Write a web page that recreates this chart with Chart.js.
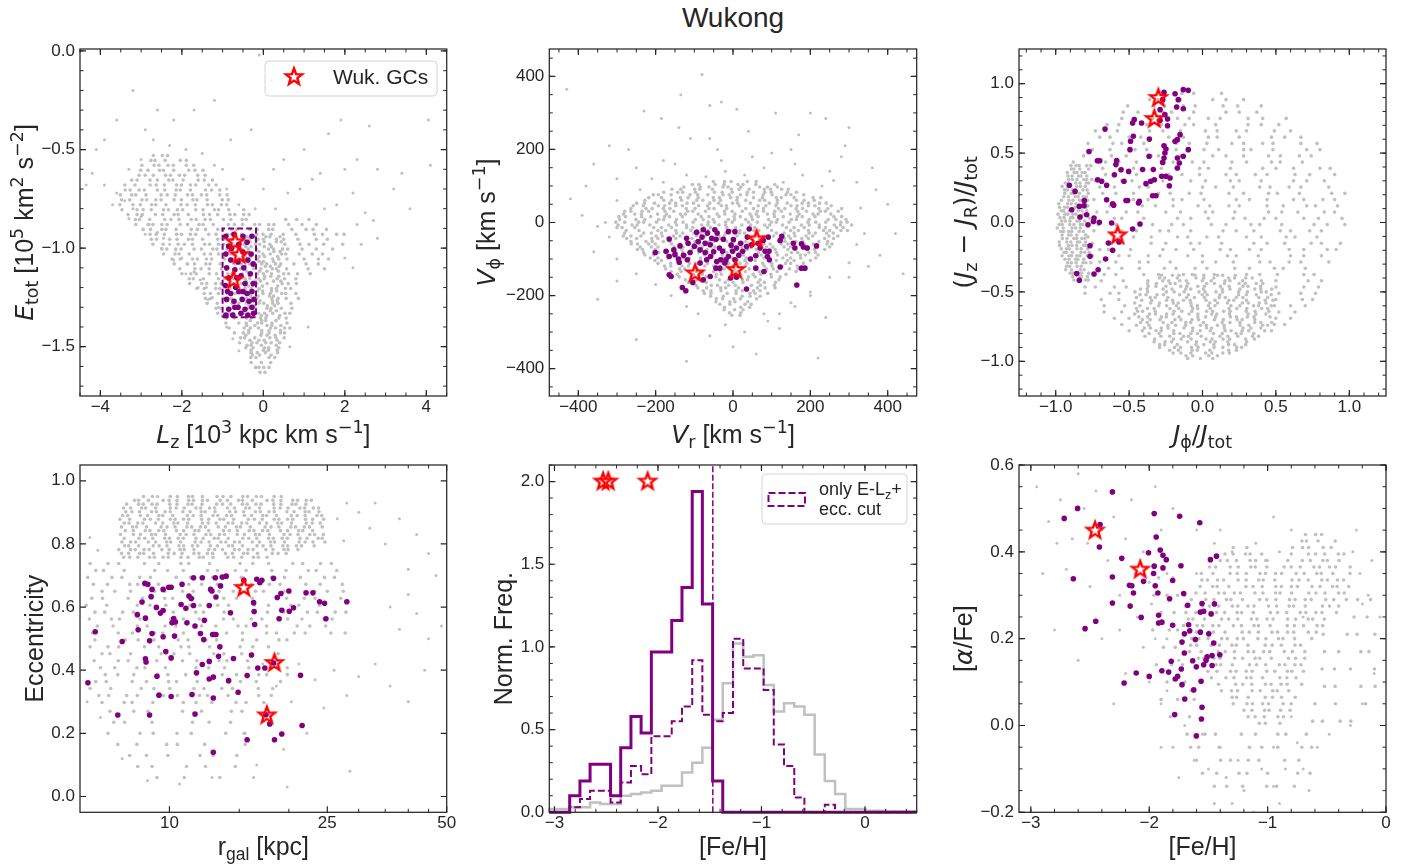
<!DOCTYPE html>
<html>
<head>
<meta charset="utf-8">
<script src="https://cdn.jsdelivr.net/npm/chart.js@4.4.1/dist/chart.umd.min.js"></script>
<style>
  html, body { margin: 0; padding: 0; background: #fff; }
  #fig { position: relative; width: 1416px; height: 867px; overflow: hidden; }
  #fig canvas { position: absolute; left: 0; top: 0; }
  #title { position: absolute; left: 533px; width: 400px; top: 2px; text-align: center;
           font: 28px "Liberation Sans", Arial, sans-serif; color: #262626; }
</style>
</head>
<body>
<div id="fig">
  <div id="title">Wukong</div>
  <canvas id="p1" width="1416" height="867"></canvas>
  <canvas id="p2" width="1416" height="867"></canvas>
  <canvas id="p3" width="1416" height="867"></canvas>
  <canvas id="p4" width="1416" height="867"></canvas>
  <canvas id="p5" width="1416" height="867"></canvas>
  <canvas id="p6" width="1416" height="867"></canvas>
</div>
<script>
// ---- panel 1: E_tot vs L_z ----
// sparse stars as [Lz, E]; the crowded parts as rows [E, [Lz, ...]]
const eLzField = [
  [-4.2,-0.62],[-3.9,-0.68],[-3.6,-0.72],[-3.4,-0.76],[-3.2,-0.8],[-3.0,-0.84],[-2.8,-0.88],[-2.6,-0.92],[-2.45,-0.95],[-2.3,-0.98],
  [-2.15,-1.01],[-2.0,-1.05],[-1.85,-1.08],[-1.7,-1.12],[-1.55,-1.16],[-1.4,-1.2],[-1.25,-1.25],[-1.1,-1.3],[-1.0,-1.34],[-0.9,-1.4],
  [-0.75,-1.46],[-0.6,-1.52],[-3.7,-0.78],[-3.3,-0.85],[-2.9,-0.93],[-2.5,-1.0],[-2.2,-1.06],[-1.9,-1.13],[-1.6,-1.2],[-1.35,-1.26],
  [-2.7,-0.45],[-2.3,-0.48],[-1.9,-0.5],[-1.5,-0.52],[-1.2,-0.58],[-3.3,-0.6],[-3.0,-0.55],
  [1.5,-0.8],[1.8,-0.78],[2.2,-0.72],[2.8,-0.95],[2.4,-0.98],[1.1,-1.4],[0.65,-1.5],[2.5,-0.82],[2.7,-0.86],[2.3,-0.88],[2.2,-1.1],[2.0,-1.05],
  [-3.2,-0.2],[-3.6,-0.35],[-4.1,-0.5],[-2.9,-0.4],[-2.2,-0.35],[-1.7,-0.3],[-1.2,-0.25],[-0.8,-0.45],[-0.3,-0.4],[0.2,-0.15],
  [0.5,-0.55],[1.0,-0.5],[1.6,-0.42],[2.3,-0.55],[2.8,-0.6],[3.2,-0.7],[3.6,-0.8],[4.1,-0.58],[4.05,-0.35],[3.0,-0.1],
  [-0.5,-0.65],[0.0,-0.7],[0.3,-0.8],[-4.35,-0.68],[-3.9,-0.45],[-2.6,-0.3],[1.2,-0.65],[2.0,-0.6],[0.6,-0.72],[-0.1,-0.02],
  [-0.2,-0.8],[-1.0,-0.6],[1.9,-0.35],[2.6,-0.38],[-0.6,-0.78],[0.9,-0.7],[1.4,-0.62],[-0.9,-0.7],[0.25,-0.6],[3.4,-0.62]
]
const eLzDense = [
  [-0.53, [-2.70,-2.48,-2.35]],
  [-0.555, [-2.76,-2.66,-2.41,-2.04,-1.89]],
  [-0.58, [-2.98,-2.68,-2.56,-2.34,-2.21,-1.89,-1.71]],
  [-0.605, [-3.01,-2.83,-2.55,-2.45,-2.2,-1.83,-1.68,-1.48]],
  [-0.63, [-3.05,-2.9,-2.7,-2.4,-2.28,-2.06,-1.93,-1.61,-1.43]],
  [-0.655, [-3.23,-3.1,-2.78,-2.6,-2.32,-2.22,-1.97,-1.6,-1.45,-1.25]],
  [-0.68, [-3.4,-3.15,-2.78,-2.63,-2.43,-2.13,-2.01,-1.79,-1.66,-1.34,-1.16]],
  [-0.705, [-3.39,-3.27,-3.05,-2.92,-2.6,-2.42,-2.14,-2.04,-1.79,-1.42,-1.27,-1.07]],
  [-0.73, [-3.51,-3.23,-3.13,-2.88,-2.51,-2.36,-2.16,-1.86,-1.74,-1.52,-1.39,-1.07,-0.89]],
  [-0.755, [-3.48,-3.28,-2.98,-2.86,-2.64,-2.51,-2.19,-2.01,-1.73,-1.63,-1.38,-1.01,-0.86]],
  [-0.78, [-3.52,-3.2,-3.02,-2.74,-2.64,-2.39,-2.02,-1.87,-1.67,-1.37,-1.25,-1.03,-0.9]],
  [-0.805, [-3.47,-3.1,-2.95,-2.75,-2.45,-2.33,-2.11,-1.98,-1.66,-1.48,-1.2,-1.1,-0.85,-0.48]],
  [-0.83, [-3.32,-3.1,-2.97,-2.65,-2.47,-2.19,-2.09,-1.84,-1.47,-1.32,-1.12,-0.82,-0.7,-0.48,-0.35]],
  [-0.855, [-3.14,-3.04,-2.79,-2.42,-2.27,-2.07,-1.77,-1.65,-1.43,-1.3,-0.98,-0.8,-0.52,-0.42,0.55,0.82,1.12]],
  [-0.88, [-3.13,-2.83,-2.71,-2.49,-2.36,-2.04,-1.86,-1.58,-1.48,-1.23,-0.86,-0.71,-0.51,-0.21,-0.09,0.13,0.26,0.62,0.95,1.3]],
  [-0.905, [-2.95,-2.77,-2.49,-2.39,-2.14,-1.77,-1.62,-1.42,-1.12,-1.0,-0.78,-0.65,-0.33,-0.15,0.13,0.23,0.7,1.05,1.22,1.55]],
  [-0.93, [-2.78,-2.63,-2.43,-2.13,-2.01,-1.79,-1.66,-1.34,-1.16,-0.88,-0.78,-0.53,-0.16,-0.01,0.19,0.49,0.8,1.25,1.45,1.8,1.98]],
  [-0.9425, [-0.4,-0.22,0.06,0.16,0.41]],
  [-0.955, [-2.75,-2.62,-2.3,-2.12,-1.84,-1.74,-1.49,-1.12,-0.97,-0.77,-0.47,-0.35,-0.13,0.0,0.32,0.5,0.85,1.3,1.57]],
  [-0.9675, [-0.33,-0.18,0.02,0.32,0.44]],
  [-0.98, [-2.71,-2.46,-2.09,-1.94,-1.74,-1.44,-1.32,-1.1,-0.97,-0.65,-0.47,-0.19,-0.09,0.16,0.53,0.9,1.12,1.48,1.95]],
  [-0.9925, [-0.43,-0.3,0.02,0.2]],
  [-1.005, [-2.49,-2.37,-2.15,-2.02,-1.7,-1.52,-1.24,-1.14,-0.89,-0.52,-0.37,-0.17,0.13,0.25,0.47,0.6,0.95,1.3,1.7]],
  [-1.0175, [-0.36,-0.11,0.26,0.41]],
  [-1.03, [-2.45,-2.17,-2.07,-1.82,-1.45,-1.3,-1.1,-0.8,-0.68,-0.46,-0.33,-0.01,0.17,0.45,0.55,0.88,1.2,1.45]],
  [-1.0425, [-0.44,-0.32,-0.1,0.03,0.35]],
  [-1.055, [-2.24,-2.04,-1.74,-1.62,-1.4,-1.27,-0.95,-0.77,-0.49,-0.39,-0.14,0.23,0.38,0.58,1.0,1.35,1.6]],
  [-1.0675, [-0.38,-0.1,0.0,0.25]],
  [-1.08, [-2.19,-1.87,-1.69,-1.41,-1.31,-1.06,-0.69,-0.54,-0.34,-0.04,0.08,0.3,0.43,0.75,1.05,1.35]],
  [-1.0925, [-0.45,-0.25,0.05,0.17,0.39]],
  [-1.105, [-2.05,-1.68,-1.53,-1.33,-1.03,-0.91,-0.69,-0.56,-0.24,-0.06,0.22,0.32,0.57,1.1,1.5]],
  [-1.1175, [-0.41,-0.09,0.09,0.37]],
  [-1.13, [-2.0,-1.78,-1.65,-1.33,-1.15,-0.87,-0.77,-0.52,-0.15,0.0,0.2,0.5,0.62,0.84,1.15]],
  [-1.1425, [-0.34,0.03,0.18,0.38]],
  [-1.155, [-1.82,-1.72,-1.47,-1.1,-0.95,-0.75,-0.45,-0.33,-0.11,0.02,0.34,0.52,0.8]],
  [-1.1675, [-0.42,-0.2,-0.07,0.25,0.43]],
  [-1.18, [-1.81,-1.51,-1.39,-1.17,-1.04,-0.72,-0.54,-0.26,-0.16,0.09,0.46,0.61,0.81]],
  [-1.1925, [-0.37,-0.27,-0.02,0.35]],
  [-1.205, [-1.63,-1.45,-1.17,-1.07,-0.82,-0.45,-0.3,-0.1,0.2,0.32,0.54,0.67]],
  [-1.2175, [-0.44,-0.14,-0.02,0.2,0.33]],
  [-1.23, [-1.45,-1.3,-1.1,-0.8,-0.68,-0.46,-0.33,-0.01,0.17,0.45,0.55,0.8]],
  [-1.2425, [-0.31,-0.13,0.15,0.25]],
  [-1.255, [-1.42,-1.29,-0.97,-0.79,-0.51,-0.41,-0.16,0.21,0.36,0.56,0.86]],
  [-1.2675, [-0.43,-0.28,-0.08,0.22,0.34]],
  [-1.28, [-1.38,-1.13,-0.76,-0.61,-0.41,-0.11,0.01,0.23,0.36,0.68]],
  [-1.2925, [-0.35,-0.22,0.1,0.28]],
  [-1.305, [-1.16,-1.04,-0.82,-0.69,-0.37,-0.19,0.09,0.19,0.44,0.7]],
  [-1.3175, [-0.45,-0.2,0.17,0.32]],
  [-1.33, [-1.12,-0.84,-0.74,-0.49,-0.12,0.03,0.23,0.53,0.65]],
  [-1.3425, [-0.39,-0.27,-0.05,0.08,0.4]],
  [-1.355, [-0.91,-0.71,-0.41,-0.29,-0.07,0.06,0.38,0.56]],
  [-1.3675, [-0.32,-0.04,0.06,0.31]],
  [-1.38, [-0.92,-0.6,-0.42,-0.14,-0.04,0.21,0.58]],
  [-1.3925, [-0.41,-0.21,0.09,0.21,0.43]],
  [-1.405, [-0.84,-0.47,-0.32,-0.12,0.18,0.3,0.52,0.65]],
  [-1.4175, [-0.36,-0.04,0.14,0.42]],
  [-1.43, [-0.71,-0.49,-0.36,-0.04,0.14,0.42,0.52]],
  [-1.4425, [-0.43,-0.06,0.09,0.29]],
  [-1.455, [-0.56,-0.46,-0.21,0.16,0.31,0.51]],
  [-1.4675, [-0.33,-0.11,0.02,0.34]],
  [-1.48, [-0.58,-0.28,-0.16,0.06,0.19,0.4]],
  [-1.4925, [-0.4,-0.3,-0.05,0.32]],
  [-1.505, [-0.43,-0.25,0.03,0.13,0.38]],
  [-1.5175, [-0.3,0.0,0.12,0.34]],
  [-1.53, [-0.3,-0.15,0.05,0.35]],
  [-1.5425, [-0.27,-0.09,0.19]],
  [-1.555, [-0.31,-0.18,0.14,0.28]],
  [-1.58, [-0.3,-0.05,0.18]],
  [-1.605, [-0.19,-0.11,0.01,0.14]],
  [-1.63, [-0.08,0.04]]
]
const eLzMembers = [
  [-0.92,-0.94],[-0.72,-0.93],[-0.5,-0.94],[-0.28,-0.94],[-0.85,-0.99],[-0.6,-0.98],[-0.4,-0.97],[-0.92,-1.03],[-0.5,-1.02],[-0.3,-1.03],
  [-0.8,-1.06],[-0.62,-1.07],[-0.38,-1.06],[-0.25,-1.08],[-0.9,-1.1],[-0.7,-1.11],[-0.48,-1.1],[-0.85,-1.15],[-0.55,-1.14],[-0.32,-1.13],
  [-0.93,-1.19],[-0.68,-1.2],[-0.45,-1.18],[-0.25,-1.18],[-0.8,-1.23],[-0.6,-1.22],[-0.4,-1.23],[-0.28,-1.22],[-0.9,-1.26],[-0.72,-1.27],
  [-0.52,-1.26],[-0.35,-1.27],[-0.23,-1.26],[-0.85,-1.31],[-0.62,-1.3],[-0.45,-1.31],[-0.28,-1.3],[-0.92,-1.34],[-0.75,-1.34],[-0.55,-1.33],
  [-0.38,-1.34],[-0.24,-1.33],[-0.78,-1.0],[-0.65,-1.15],[-0.88,-1.22],[-0.5,-1.22],[-0.7,-1.3]
]
const boxLz = [-1.0, -0.18]
const boxE = [-1.35, -0.9]
const gcLz = [-0.69, -0.59, -0.73]
const gcE = [-0.97, -1.035, -1.162]

// ---- panel 2: V_phi vs V_r ----
const velField = [
  [-180,110],[-120,130],[-70,125],[-20,140],[30,130],[80,150],[130,110],[180,130],[230,100],[-240,90],[-30,170],[100,190],[160,160],
  [-150,160],[250,140],[-210,120],[260,115],[-300,60],[330,40],[-330,0],[340,-30],[-320,-40],[320,-60],[-300,-100],[300,-110],
  [-250,-140],[250,-150],[-200,-170],[200,-190],[-160,-200],[150,-220],[-120,-230],[90,-270],[-20,-280],[30,-300],[-90,-250],[120,-250],
  [-80,405],[-135,350],[-230,305],[-185,285],[-30,330],[-60,320],[10,310],[110,300],[200,300],[240,285],[300,260],[-320,210],
  [-360,160],[-420,65],[-390,20],[-350,-10],[-360,-80],[-300,-160],[-350,-210],[-250,-320],[-120,-380],[-60,-310],[80,-250],
  [120,-290],[160,-230],[200,-200],[240,-260],[300,-150],[350,-120],[380,-90],[420,-30],[440,-140],[400,50],[360,150],[320,110],
  [280,180],[150,200],[50,180],[-40,200],[-110,230],[-180,170],[-250,150],[-300,120],[0,-340],[60,-360],[220,-371],[-430,365],
  [-60,230],[40,250],[-140,260],[170,240],[-270,200],[290,210],[-380,100],[370,90]
]
const velDense = [
  [112, [-51,-22,-5,37,60]],
  [104, [-105,-88,-46,-23,13,26,59,108]],
  [97, [-127,-85,-62,-26,-13,20,69,89,115]],
  [91, [-158,-135,-99,-86,-53,-4,16,42,81,97,126,143]],
  [83, [-179,-143,-130,-97,-48,-28,-2,37,53,82,99,141,164]],
  [76, [-206,-193,-160,-111,-91,-65,-26,-10,19,36,78,101,137,150,183]],
  [68, [-218,-185,-136,-116,-90,-51,-35,-6,11,53,76,112,125,158,207,227]],
  [61, [-228,-179,-159,-133,-94,-78,-49,-32,10,33,69,82,115,164,184,210]],
  [53, [-249,-229,-203,-164,-148,-119,-102,-60,-37,-1,12,45,94,114,140,179,195,224,241]],
  [46, [-258,-232,-193,-177,-148,-131,-89,-66,-30,-17,16,65,85,111,150,166,195,212,254]],
  [38, [-264,-225,-209,-180,-163,-121,-98,-62,-49,-16,33,53,79,118,134,163,180,222,245,281]],
  [31, [-280,-264,-235,-218,-176,-153,-117,-104,-71,-22,-2,24,63,79,108,125,167,190,226,239,272]],
  [23, [-283,-254,-237,-195,-172,-136,-123,-90,-41,-21,5,44,60,89,106,148,171,207,220,253]],
  [16, [-295,-278,-236,-213,-177,-164,-131,-82,-62,-36,3,19,48,65,107,130,166,179,212,261,281]],
  [8, [-293,-251,-228,-192,-179,-146,-97,-77,-51,-12,4,33,50,92,115,151,164,197,246,266,292]],
  [1, [-303,-280,-244,-231,-198,-149,-129,-103,-64,-48,-19,-2,40,63,99,112,145,194,214,240,279,295]],
  [-7, [-297,-261,-248,-215,-166,-146,-120,-81,-65,-36,-19,23,46,82,95,128,177,197,223,262,278,307]],
  [-14, [-300,-287,-254,-205,-185,-159,-120,-104,-75,-58,-16,7,43,56,89,138,158,184,223,239,268,285]],
  [-22, [-276,-243,-194,-174,-148,-109,-93,-64,-47,-5,18,54,67,100,149,169,195,234,250,279,296]],
  [-29, [-280,-231,-211,-185,-146,-130,-101,-84,-42,-19,17,30,63,112,132,158,197,213,242,259]],
  [-37, [-284,-264,-238,-199,-183,-154,-137,-95,-72,-36,-23,10,59,79,105,144,160,189,206,248,271]],
  [-44, [-275,-249,-210,-194,-165,-148,-106,-83,-47,-34,-1,48,68,94,133,149,178,195,237,260]],
  [-52, [-264,-225,-209,-180,-163,-121,-98,-62,-49,-16,33,53,79,118,134,163,180,222,245]],
  [-59, [-263,-247,-218,-201,-159,-136,-100,-87,-54,-5,15,41,80,96,125,142,184,207,243,256]],
  [-67, [-240,-211,-194,-152,-129,-93,-80,-47,2,22,48,87,103,132,149,191,214,250]],
  [-74, [-247,-234,-201,-152,-132,-106,-67,-51,-22,-5,37,60,96,109,142,191,211,237]],
  [-82, [-231,-192,-176,-147,-130,-88,-65,-29,-16,17,66,86,112,151,167,196,213]],
  [-89, [-228,-205,-169,-156,-123,-74,-54,-28,11,27,56,73,115,138,174,187,220]],
  [-97, [-214,-194,-168,-129,-113,-84,-67,-25,-2,34,47,80,129,149,175,214]],
  [-104, [-202,-185,-143,-120,-84,-71,-38,11,31,57,96,112,141,158,200]],
  [-112, [-194,-161,-112,-92,-66,-27,-11,18,35,77,100,136,149,182]],
  [-119, [-177,-161,-132,-115,-73,-50,-14,-1,32,81,101,127,166]],
  [-127, [-174,-138,-125,-92,-43,-23,3,42,58,87,104,146,169]],
  [-134, [-160,-134,-95,-79,-50,-33,9,32,68,81,114,163]],
  [-142, [-144,-102,-79,-43,-30,3,52,72,98,137]],
  [-149, [-139,-90,-70,-44,-5,11,40,57,99,122]],
  [-157, [-123,-94,-77,-35,-12,24,37,70,119]],
  [-164, [-115,-102,-69,-20,0,26,65,81,110]],
  [-172, [-95,-56,-40,-11,6,48,71,107]],
  [-179, [-91,-68,-32,-19,14,63,83,109]],
  [-187, [-77,-57,-31,8,24,53,70]],
  [-194, [-74,-57,-15,8,44,57,90]],
  [-202, [-58,-25,24,44,70]],
  [-209, [-43,-27,2,19,61]],
  [-217, [-44,-8,5,38]],
  [-224, [-34,-8,31,47]],
  [-232, [-22,20,43]],
  [-239, [-23,4,26]],
  [-247, [-9,20]],
  [-254, [-3,18]]
]
const velMembers = [
  [-201,-82],[-165,-45],[-173,-79],[-165,-93],[-153,-75],[-141,-100],[-139,-109],[-120,-43],[-116,-57],[-111,-82],
  [-118,-102],[-94,-27],[-90,-52],[-85,-75],[-77,-20],[-72,-57],[-66,-29],[-59,-61],[-58,-93],[-47,-20],
  [-44,-46],[-41,-29],[-35,-70],[-32,-102],[-27,-79],[-18,-102],[-12,-93],[-44,-125],[-42,-107],[-59,-148],
  [-77,-157],[-104,-164],[-165,-143],[-160,-148],[-131,-178],[-122,-187],[5,-25],[1,-47],[9,-70],[-1,-79],
  [20,-57],[25,-79],[5,-102],[42,-18],[37,-40],[35,-66],[48,-61],[59,-91],[65,-57],[78,-49],
  [91,-40],[83,-79],[89,-93],[93,-79],[94,-102],[80,-134],[59,-125],[35,-182],[9,-150],[-6,-152],
  [122,-49],[126,-38],[122,-122],[156,-57],[160,-70],[177,-58],[182,-67],[192,-70],[216,-64],[177,-125],
  [186,-125],[165,-171],[-12,-25],[-25,-46],[-55,-43],[-72,-82],[-137,-64],[-85,-111],[-68,-102],[-34,-125],
  [-21,-111],[-150,-88],[-128,-90],[-100,-65],[-50,-80],[15,-90],[45,-100],[-5,-62],[70,-70],[-80,-40]
]
const gcVr = [-98, 7, 61]
const gcVphi = [-139, -130, -46]

// ---- panel 3: action space, rows [(Jz-JR)/Jtot, [Jphi/Jtot, ...]] ----
const actDense = [
  // interior
  [0.93, [-0.27,-0.14,-0.06,0.13]],
  [0.885, [-0.36,-0.3,-0.15,0.07,0.16,0.28]],
  [0.84, [-0.51,-0.33,-0.26,-0.13,-0.05,0.14,0.24,0.4]],
  [0.795, [-0.54,-0.44,-0.27,-0.21,-0.06,0.16,0.25,0.37]],
  [0.75, [-0.55,-0.46,-0.34,-0.17,-0.09,0.04,0.12,0.31,0.41,0.57]],
  [0.705, [-0.65,-0.57,-0.38,-0.28,-0.12,-0.06,0.09,0.31,0.4,0.52]],
  [0.66, [-0.73,-0.58,-0.36,-0.27,-0.15,0.02,0.1,0.23,0.3,0.49,0.6]],
  [0.615, [-0.7,-0.63,-0.5,-0.42,-0.23,-0.13,0.04,0.1,0.25,0.47,0.56,0.67]],
  [0.57, [-0.78,-0.61,-0.55,-0.4,-0.18,-0.09,0.03,0.2,0.28,0.41,0.48,0.67,0.78]],
  [0.525, [-0.75,-0.63,-0.46,-0.38,-0.25,-0.18,0.01,0.11,0.28,0.33,0.48,0.71,0.8]],
  [0.48, [-0.81,-0.62,-0.52,-0.35,-0.3,-0.15,0.07,0.16,0.28,0.45,0.53,0.66,0.74]],
  [0.435, [-0.88,-0.66,-0.57,-0.45,-0.28,-0.2,-0.07,0.01,0.2,0.3,0.47,0.53,0.68]],
  [0.39, [-0.68,-0.55,-0.47,-0.28,-0.18,-0.02,0.04,0.19,0.41,0.5,0.62,0.8,0.87]],
  [0.345, [-0.66,-0.6,-0.45,-0.23,-0.14,-0.02,0.16,0.23,0.36,0.44,0.63,0.73,0.9]],
  [0.3, [-0.73,-0.55,-0.48,-0.35,-0.27,-0.08,0.02,0.19,0.25,0.4,0.62,0.71,0.83]],
  [0.255, [-0.7,-0.6,-0.43,-0.37,-0.22,0.0,0.09,0.21,0.39,0.46,0.59,0.67,0.86]],
  [0.21, [-0.68,-0.59,-0.47,-0.3,-0.22,-0.09,-0.01,0.18,0.28,0.45,0.51,0.66,0.88,0.97]],
  [0.165, [-0.74,-0.66,-0.47,-0.37,-0.2,-0.14,0.01,0.23,0.32,0.44,0.62,0.69,0.82,0.9]],
  [0.12, [-0.78,-0.63,-0.41,-0.32,-0.2,-0.03,0.05,0.18,0.25,0.44,0.55,0.71,0.77,0.92]],
  [0.075, [-0.72,-0.65,-0.52,-0.44,-0.25,-0.15,0.02,0.07,0.22,0.45,0.54,0.65,0.83,0.9]],
  [0.03, [-0.77,-0.6,-0.55,-0.4,-0.17,-0.08,0.04,0.21,0.29,0.42,0.5,0.69,0.79,0.95]],
  [-0.015, [-0.71,-0.59,-0.42,-0.34,-0.21,-0.13,0.06,0.16,0.33,0.39,0.54,0.76,0.85,0.97]],
  [-0.06, [-0.74,-0.55,-0.45,-0.29,-0.23,-0.08,0.14,0.23,0.35,0.53,0.6,0.73,0.81]],
  [-0.105, [-0.78,-0.56,-0.47,-0.35,-0.17,-0.1,0.03,0.11,0.3,0.4,0.57,0.63,0.78]],
  [-0.15, [-0.75,-0.62,-0.54,-0.35,-0.25,-0.08,-0.02,0.13,0.35,0.44,0.56,0.74,0.81,0.94]],
  [-0.195, [-0.7,-0.64,-0.49,-0.27,-0.18,-0.06,0.12,0.19,0.32,0.4,0.59,0.69,0.85,0.91]],
  [-0.24, [-0.75,-0.57,-0.5,-0.37,-0.29,-0.1,0.0,0.17,0.23,0.38,0.6,0.69,0.81]],
  [-0.285, [-0.7,-0.59,-0.43,-0.37,-0.22,0.0,0.09,0.21,0.39,0.46,0.59,0.67,0.86]],
  [-0.33, [-0.64,-0.55,-0.43,-0.26,-0.18,-0.05,0.03,0.22,0.32,0.49,0.55,0.7]],
  [-0.375, [-0.67,-0.59,-0.4,-0.3,-0.13,-0.07,0.08,0.3,0.39,0.51,0.69,0.76]],
  [-0.42, [-0.69,-0.54,0.5,0.72,0.81]],
  [-0.465, [-0.8,-0.73,-0.6,-0.52,0.5,0.69,0.79]],
  [-0.51, [-0.8,-0.63,-0.57,0.52,0.67,0.77]],
  [-0.555, [-0.69,-0.57,0.5,0.68,0.75]],
  [-0.6, [-0.67,-0.53,0.49,0.6,0.7]],
  [-0.645, [-0.67,-0.55,0.52,0.63]],
  [-0.69, [-0.6,-0.5,0.5,0.6]],
  [-0.735, [-0.55,0.49,0.56]],
  [-0.78, [-0.5,0.47]],
  // crescent along Jphi/Jtot = -1
  [0.41, [-0.896,-0.861,-0.84,-0.789,-0.761]],
  [0.385, [-0.892,-0.876,-0.836,-0.776]],
  [0.36, [-0.921,-0.874,-0.855,-0.82,-0.799]],
  [0.335, [-0.916,-0.888,-0.844,-0.828,-0.788]],
  [0.31, [-0.912,-0.887,-0.855,-0.808,-0.789,-0.754]],
  [0.285, [-0.935,-0.914,-0.863,-0.835,-0.791,-0.775]],
  [0.26, [-0.956,-0.916,-0.856,-0.831,-0.799]],
  [0.235, [-0.94,-0.921,-0.886,-0.865,-0.814,-0.786]],
  [0.21, [-0.938,-0.894,-0.878,-0.838,-0.778]],
  [0.185, [-0.945,-0.913,-0.866,-0.847,-0.812,-0.791]],
  [0.16, [-0.961,-0.91,-0.882,-0.838,-0.822,-0.782]],
  [0.135, [-0.979,-0.919,-0.894,-0.862,-0.815,-0.796]],
  [0.11, [-0.974,-0.939,-0.918,-0.867,-0.839,-0.795]],
  [0.085, [-0.962,-0.946,-0.906,-0.846,-0.821,-0.789]],
  [0.06, [-0.984,-0.937,-0.918,-0.883,-0.862,-0.811]],
  [0.035, [-0.971,-0.943,-0.899,-0.883,-0.843]],
  [0.01, [-0.96,-0.935,-0.903,-0.856,-0.837,-0.802]],
  [-0.015, [-0.976,-0.955,-0.904,-0.876,-0.832,-0.816]],
  [-0.04, [-0.989,-0.949,-0.889,-0.864,-0.832]],
  [-0.065, [-0.966,-0.947,-0.912,-0.891,-0.84,-0.812]],
  [-0.09, [-0.956,-0.912,-0.896,-0.856,-0.796]],
  [-0.115, [-0.955,-0.923,-0.876,-0.857,-0.822,-0.801]],
  [-0.14, [-0.976,-0.925,-0.897,-0.853,-0.837,-0.797]],
  [-0.165, [-0.974,-0.914,-0.889,-0.857,-0.81,-0.791]],
  [-0.19, [-0.962,-0.927,-0.906,-0.855,-0.827,-0.783]],
  [-0.215, [-0.943,-0.927,-0.887,-0.827,-0.802,-0.77]],
  [-0.24, [-0.957,-0.91,-0.891,-0.856,-0.835,-0.784]],
  [-0.265, [-0.937,-0.909,-0.865,-0.849,-0.809]],
  [-0.29, [-0.918,-0.893,-0.861,-0.814,-0.795,-0.76]],
  [-0.315, [-0.926,-0.905,-0.854,-0.826]],
  [-0.34, [-0.932,-0.892,-0.832,-0.807]],
  [-0.365, [-0.901,-0.882,-0.847,-0.826,-0.775]],
  [-0.39, [-0.884,-0.84,-0.824,-0.784]],
  [-0.415, [-0.876,-0.844,-0.797,-0.778]],
  // dense clump near Jphi/Jtot = 0, bottom
  [-0.38, [-0.28,-0.205,-0.16,-0.051,0.009,0.103,0.137,0.223]],
  [-0.4, [-0.292,-0.258,-0.172,-0.044,0.009,0.077,0.178,0.219,0.294,0.339]],
  [-0.42, [-0.372,-0.271,-0.23,-0.155,-0.11,-0.001,0.059,0.153,0.187,0.273,0.401]],
  [-0.44, [-0.374,-0.314,-0.22,-0.186,-0.1,0.028,0.081,0.149,0.25,0.291,0.366,0.411]],
  [-0.46, [-0.37,-0.317,-0.249,-0.148,-0.107,-0.032,0.013,0.122,0.182,0.276,0.31,0.396]],
  [-0.48, [-0.422,-0.377,-0.268,-0.208,-0.114,-0.08,0.006,0.134,0.187,0.255,0.356,0.397,0.472]],
  [-0.5, [-0.46,-0.374,-0.246,-0.193,-0.125,-0.024,0.017,0.092,0.137,0.246,0.306,0.4,0.434]],
  [-0.52, [-0.426,-0.385,-0.31,-0.265,-0.156,-0.096,-0.002,0.032,0.118,0.246,0.299,0.367,0.468]],
  [-0.54, [-0.45,-0.356,-0.322,-0.236,-0.108,-0.055,0.013,0.114,0.155,0.23,0.275,0.384,0.444]],
  [-0.56, [-0.414,-0.346,-0.245,-0.204,-0.129,-0.084,0.025,0.085,0.179,0.213,0.299,0.427,0.48]],
  [-0.58, [-0.462,-0.353,-0.293,-0.199,-0.165,-0.079,0.049,0.102,0.17,0.271,0.312,0.387,0.432]],
  [-0.6, [-0.426,-0.298,-0.245,-0.177,-0.076,-0.035,0.04,0.085,0.194,0.254,0.348,0.382,0.468]],
  [-0.62, [-0.45,-0.375,-0.33,-0.221,-0.161,-0.067,-0.033,0.053,0.181,0.234,0.302,0.403,0.444]],
  [-0.64, [-0.442,-0.408,-0.322,-0.194,-0.141,-0.073,0.028,0.069,0.144,0.189,0.298,0.358,0.452]],
  [-0.66, [-0.462,-0.361,-0.32,-0.245,-0.2,-0.091,-0.031,0.063,0.097,0.183,0.311,0.364,0.432]],
  [-0.68, [-0.434,-0.374,-0.28,-0.246,-0.16,-0.032,0.021,0.089,0.19,0.231,0.306,0.351,0.46]],
  [-0.7, [-0.41,-0.357,-0.289,-0.188,-0.147,-0.072,-0.027,0.082,0.142,0.236,0.27,0.356]],
  [-0.72, [-0.422,-0.377,-0.268,-0.208,-0.114,-0.08,0.006,0.134,0.187,0.255,0.356,0.397,0.472]],
  [-0.74, [-0.45,-0.364,-0.236,-0.183,-0.115,-0.014,0.027,0.102,0.147,0.256,0.316,0.41,0.444]],
  [-0.76, [-0.396,-0.355,-0.28,-0.235,-0.126,-0.066,0.028,0.062,0.148,0.276,0.329,0.397]],
  [-0.78, [-0.41,-0.316,-0.282,-0.196,-0.068,-0.015,0.053,0.154,0.195,0.27,0.315,0.424]],
  [-0.8, [-0.364,-0.296,-0.195,-0.154,-0.079,-0.034,0.075,0.135,0.229,0.263,0.349]],
  [-0.82, [-0.392,-0.283,-0.223,-0.129,-0.095,-0.009,0.119,0.172,0.24,0.341,0.382]],
  [-0.84, [-0.326,-0.198,-0.145,-0.077,0.024,0.065,0.14,0.185,0.294,0.354]],
  [-0.86, [-0.33,-0.255,-0.21,-0.101,-0.041,0.053,0.087,0.173,0.301]],
  [-0.88, [-0.292,-0.258,-0.172,-0.044,0.009,0.077,0.178,0.219,0.294]],
  [-0.9, [-0.292,-0.191,-0.15,-0.075,-0.03,0.079,0.139,0.233,0.267]],
  [-0.92, [-0.224,-0.164,-0.07,-0.036,0.05,0.178,0.231]],
  [-0.94, [-0.2,-0.147,-0.079,0.022,0.063,0.138,0.183]],
  [-0.96, [-0.112,-0.067,0.042,0.102]],
  [-0.98, [-0.1,-0.014,0.07]]
]
const actMembers = [
  [-0.131,0.957],[-0.097,0.952],[-0.187,0.928],[-0.165,0.885],[-0.176,0.832],[-0.131,0.82],[-0.262,0.938],[-0.271,0.885],[-0.256,0.777],[-0.238,0.745],
  [-0.289,0.813],[-0.476,0.717],[-0.465,0.741],[-0.415,0.717],[-0.471,0.621],[-0.49,0.585],[-0.494,0.525],[-0.664,0.673],[-0.773,0.512],[-0.716,0.445],
  [-0.7,0.445],[-0.585,0.447],[-0.555,0.38],[-0.59,0.417],[-0.503,0.368],[-0.6,0.344],[-0.714,0.308],[-0.687,0.297],[-0.653,0.268],[-0.535,0.297],
  [-0.907,0.268],[-0.868,0.224],[-0.805,0.159],[-0.807,0.121],[-0.839,0.116],[-0.891,0.092],[-0.789,0.056],[-0.834,0.04],[-0.739,0.032],[-0.743,0.008],
  [-0.703,0.001],[-0.78,-0.016],[-0.612,0.135],[-0.605,0.125],[-0.521,0.159],[-0.51,0.159],[-0.43,0.152],[-0.436,0.14],[-0.476,-0.047],[-0.426,-0.011],
  [-0.619,-0.004],[-0.766,-0.167],[-0.766,-0.244],[-0.66,-0.263],[-0.641,-0.148],[-0.612,-0.2],[-0.569,-0.14],[-0.711,-0.34],[-0.739,-0.371],[-0.857,-0.368],
  [-0.839,-0.416],[-0.362,0.601],[-0.364,0.477],[-0.335,0.381],[-0.408,0.381],[-0.353,0.297],[-0.328,0.308],[-0.385,0.28],[-0.34,0.193],[-0.317,0.193],
  [-0.262,0.553],[-0.249,0.529],[-0.256,0.501],[-0.262,0.465],[-0.271,0.433],[-0.278,0.333],[-0.249,0.333],[-0.221,0.321],[-0.226,0.265],[-0.187,0.585],
  [-0.171,0.597],[-0.153,0.633],[-0.171,0.465],[-0.131,0.477],[-0.158,0.429],[-0.171,0.393],[-0.097,0.525],[-0.289,0.736],[-0.238,0.697],[-0.653,0.164]
]
const gcJphi = [-0.301, -0.328, -0.578]
const gcJdiff = [0.897, 0.746, -0.092]

// ---- panel 4: eccentricity vs r_gal, rows [ecc, [r_gal, ...]] ----
const eccField = [
  [30,0.9],[32,0.85],[35,0.8],[38,0.88],[42,0.83],[45,0.77],[28,0.93],[33,0.93],[47,0.7],[40,0.72],[26.5,0.88],[27.5,0.81],
  [36,0.6],[38,0.53],[40,0.64],[42,0.58],[45,0.5],[48.5,0.54],[33,0.42],[36,0.35],[40,0.3],[44,0.4],[26,0.4],[28,0.32],[30,0.38],
  [7.6,0.12],[8.8,0.05],[10.6,0.04],[12.8,0.06],[16.3,0.06],[19.8,0.03],[28.5,0.08],[6.2,0.3],[6.7,0.25],[6.3,0.82],[6.6,0.78],
  [17.2,0.42],[17.9,0.26],[18.6,0.35],[19.4,0.15],[20.3,0.3],[21.2,0.42],[22.2,0.2],[23.3,0.37],[24.5,0.28],[16.6,0.1],[15.4,0.2]
]
const eccDense = [
  [0.95, [8.61,9.06,9.33,10.05,10.47,11.17,11.43,12.11,13.18,13.65,14.29,15.31,15.74,16.56,17.06,18.37,19.14]],
  [0.938, [8.17,8.36,8.85,9.64,9.98,10.45,11.19,11.51,12.11,12.47,13.43,14.0,14.93,15.28,16.18,17.62,18.24,19.1,20.46,21.04,22.13,22.8]],
  [0.926, [7.8,8.36,8.59,9.04,9.31,10.02,10.45,11.14,11.4,12.08,13.15,13.61,14.26,15.28,15.7,16.52,17.02,18.32,19.1,20.37,20.84,22.08]],
  [0.914, [7.66,7.98,8.51,8.71,9.23,10.05,10.4,10.89,11.67,11.99,12.62,13.0,14.0,14.59,15.56,15.92,16.87,18.37,19.01,19.91,21.33,21.93,23.07,23.77]],
  [0.902, [7.76,8.04,8.41,9.02,9.27,9.75,10.05,10.81,11.27,12.02,12.3,13.03,14.19,14.69,15.38,16.48,16.94,17.82,18.37,19.77,20.61,21.98,22.49,23.82]],
  [0.89, [7.62,7.85,8.45,8.81,9.4,9.62,10.19,11.09,11.48,12.02,12.88,13.24,13.93,14.35,15.45,16.11,17.18,17.58,18.62,20.28,20.99,21.98,23.55,24.21]],
  [0.878, [7.5,7.94,8.65,8.95,9.38,10.05,10.33,10.86,11.19,12.05,12.56,13.4,13.71,14.52,15.81,16.37,17.14,18.37,18.88,19.86,20.46,22.03,22.96,24.49]],
  [0.866, [7.69,7.91,8.32,8.57,9.23,9.62,10.26,10.5,11.12,12.11,12.53,13.12,14.06,14.45,15.21,15.67,16.87,17.58,18.75,19.19,20.32,22.13,22.91,23.99]],
  [0.854, [7.57,8.07,8.26,8.75,9.53,9.86,10.33,11.07,11.38,11.97,12.33,13.27,13.84,14.76,15.1,15.99,17.42,18.03,18.88,20.23,20.8,21.88,22.54,24.27]],
  [0.842, [7.74,8.11,8.69,8.93,9.4,9.68,10.42,10.86,11.59,11.86,12.56,13.68,14.16,14.83,15.89,16.33,17.18,17.7,19.05,19.86,21.18,21.68,22.96]],
  [0.83, [7.53,8.11,8.45,9.02,9.23,9.77,10.64,11.02,11.53,12.36,12.71,13.37,13.77,14.83,15.45,16.48,16.87,17.86,19.45,20.14,21.09,22.59,23.23,24.43]],
  [0.818, [7.69,8.38,8.67,9.08,9.73,10.0,10.52,10.84,11.67,12.16,12.97,13.27,14.06,15.31,15.85,16.6,17.78,18.28,19.23,19.82,21.33,22.23,23.71,24.27]],
  [0.806, [7.59,7.98,8.22,8.85,9.23,9.84,10.07,10.67,11.61,12.02,12.59,13.49,13.87,14.59,15.03,16.18,16.87,17.99,18.41,19.5,21.23,21.98,23.01,24.66]],
  [0.794, [7.71,7.89,8.36,9.1,9.42,9.86,10.57,10.86,11.43,11.78,12.68,13.21,14.09,14.42,15.28,16.63,17.22,18.03,19.32,19.86,20.89,21.53,23.17]],
  [0.782, [7.45,7.98,8.2,8.63,8.89,9.57,9.98,10.64,10.89,11.53,12.56,13.0,13.61,14.59,15.0,15.78,16.26,17.5,18.24,19.45,19.91,21.09]],
  [0.77, [7.57,7.89,8.41,8.61,9.12,9.93,10.28,10.76,11.53,11.86,12.47,12.85,13.84,14.42,15.38,15.74,16.67,18.16,18.79,19.68]],
  [0.758, [7.67,7.94,8.32,8.91,9.16,9.64,9.93,10.69,11.14,11.89,12.16,12.88,14.03,14.52,15.21,16.29,16.75,17.62]],
  [0.738, [6.31,7.0,7.45,8.65,9.4,10.69,11.19,12.62,15.07,16.22,17.78,20.46,21.68,24.04,25.59]],
  [0.716, [6.52,6.82,7.69,9.18,9.89,10.84,12.47,13.21,14.66,15.6,18.11,19.68,22.39,23.44,26.42]],
  [0.694, [6.22,7.16,7.59,8.41,8.95,10.4,11.3,12.85,13.46,15.17,18.11,19.5,21.38,24.6,26.06]],
  [0.672, [6.43,6.98,7.94,8.32,9.38,11.19,12.05,13.21,15.21,16.11,17.86,19.01,22.08,23.99,27.29]],
  [0.65, [6.76,7.28,7.98,9.18,9.73,10.79,11.48,13.34,14.49,16.48,17.26,19.45,23.23,25.0,27.42]],
  [0.628, [6.37,6.78,7.87,8.55,9.73,10.19,11.48,13.71,14.76,16.18,18.62,19.72,21.88,23.28,27.04]],
  [0.606, [6.17,6.95,8.3,8.93,9.79,11.27,11.94,13.24,14.09,16.37,17.78,20.23,21.18,23.88]],
  [0.584, [6.49,6.87,7.62,8.11,9.42,10.23,11.64,12.19,13.74,16.41,17.66,19.36,22.28,23.6,26.18,27.86]],
  [0.562, [6.28,7.14,7.48,8.43,10.07,10.84,11.89,13.68,14.49,16.07,17.1,19.86,21.58,24.55,25.7]],
  [0.54, [6.58,7.21,8.3,8.79,9.75,10.38,12.05,13.09,14.89,15.6,17.58,20.99,22.59,24.77]],
  [0.518, [6.4,7.43,8.07,9.18,9.62,10.84,12.94,13.93,15.28,17.58,18.62,20.65,21.98,25.53,27.73]],
  [0.496, [6.49,7.74,8.34,9.14,10.52,11.14,12.36,13.15,15.28,16.6,18.88,19.77]],
  [0.474, [6.31,7.0,7.45,8.65,9.4,10.69,11.19,12.62,15.07,16.22,17.78]],
  [0.452, [6.76,7.08,7.98,9.53,10.26,11.25,12.94,13.71,15.21,16.18,18.79]],
  [0.43, [6.46,7.43,7.87,8.73,9.29,10.79,11.72,13.34,13.96,15.74,18.79]],
  [0.408, [6.7,7.28,8.28,8.67,9.77,11.67,12.56,13.77,15.85,16.79,18.62,19.82]],
  [0.386, [6.89,7.41,8.13,9.35,9.91,10.99,11.7,13.58,14.76,16.79,17.58,19.82]],
  [0.364, [6.52,6.93,8.05,8.75,9.95,10.42,11.75,14.03,15.1,16.56,19.05]],
  [0.342, [6.31,7.11,8.49,9.14,10.02,11.53,12.22,13.55,14.42,16.75,18.2]],
  [0.32, [6.64,7.03,7.8,8.3,9.64,10.47,11.91,12.47,14.06,16.79,18.07]],
  [0.298, [6.76,7.69,8.05,9.08,10.84,11.67,12.79,14.72,15.6,17.3]],
  [0.27, [7.08,8.13,8.83,10.79,12.05,14.32,15.24]],
  [0.235, [7.24,7.71,9.04,11.43,12.59,14.26]],
  [0.2, [7.0,8.43,9.1,10.45,11.35,13.87,15.49]],
  [0.165, [7.41,8.28,9.84,10.47,12.27,15.52]],
  [0.13, [7.94,8.75,9.91,11.94,12.88,14.79]],
  [0.095, [8.32,9.04,11.04,12.33,14.66]],
  [0.06, [9.3,10.9,13.4]]
]
const eccMembers = [
  [6.23,0.36],[6.5,0.522],[7.41,0.258],[7.6,0.491],[8.3,0.576],[8.34,0.528],[8.53,0.616],[8.67,0.675],[8.82,0.672],[8.7,0.565],
  [8.7,0.436],[8.73,0.426],[8.91,0.258],[8.91,0.493],[8.99,0.633],[9.04,0.656],[9.04,0.516],[9.27,0.599],[9.3,0.381],[9.41,0.321],
  [9.49,0.581],[9.64,0.589],[9.64,0.506],[9.64,0.656],[9.79,0.459],[9.96,0.663],[10.1,0.663],[10.1,0.439],[10.1,0.317],[10.15,0.55],
  [10.25,0.564],[10.3,0.508],[10.35,0.553],[10.76,0.672],[10.7,0.608],[11.0,0.596],[11.07,0.55],[11.2,0.635],[11.35,0.627],[11.4,0.323],
  [11.5,0.605],[11.5,0.693],[11.6,0.54],[11.6,0.261],[11.7,0.392],[11.97,0.516],[12.1,0.693],[12.1,0.418],[12.2,0.497],[12.25,0.558],
  [12.6,0.372],[12.6,0.428],[12.6,0.605],[12.7,0.656],[12.8,0.651],[12.85,0.513],[12.9,0.378],[12.9,0.312],[12.9,0.14],[13.05,0.693],
  [13.1,0.513],[13.1,0.632],[13.3,0.444],[13.4,0.474],[13.45,0.667],[13.6,0.695],[13.9,0.698],[14.1,0.367],[14.25,0.582],[14.5,0.437],
  [14.9,0.33],[15.4,0.685],[15.7,0.383],[15.7,0.18],[16.1,0.448],[16.3,0.614],[16.35,0.586],[16.4,0.545],[16.6,0.688],[16.7,0.407],
  [16.9,0.677],[17.1,0.685],[17.4,0.407],[17.5,0.259],[17.9,0.23],[18.3,0.691],[18.4,0.18],[18.7,0.63],[18.9,0.563],[19.1,0.643],
  [19.2,0.59],[19.2,0.198],[20.0,0.651],[20.05,0.587],[20.55,0.598],[21.4,0.384],[21.6,0.225],[22.1,0.645],[23.0,0.645],[23.9,0.617],
  [24.6,0.612],[24.8,0.563],[28.0,0.617],[18.3,0.423]
]
const gcRgal = [15.4, 18.4, 17.6]
const gcEcc = [0.661, 0.423, 0.257]

// ---- panel 5: [Fe/H] histograms ----
const feHEdges = [-3.050,-2.951,-2.853,-2.754,-2.656,-2.557,-2.458,-2.360,-2.261,-2.163,-2.064,-1.965,-1.867,-1.768,-1.669,-1.571,
  -1.472,-1.374,-1.275,-1.176,-1.078,-0.979,-0.881,-0.782,-0.683,-0.585,-0.486,-0.388,-0.289,-0.190,-0.092,0.007,0.106,0.204,0.303,0.401,0.500]
const histWukong = [0,0,0.10,0.19,0.29,0.29,0.10,0.39,0.58,0.48,0.97,0.97,1.16,1.36,1.94,1.26,0.19,0,0,0,0,0,0,0,0,0,0,0,0,0,0,0,0,0,0,0]
const histCut = [0,0,0.03,0.08,0.13,0.13,0.06,0.18,0.28,0.23,0.46,0.46,0.55,0.64,0.92,0.59,0.55,0.60,1.05,0.87,0.87,0.74,0.41,0.28,0.09,0,0,0.045,0,0,0,0,0,0,0,0]
const histField = [0.02,0.02,0.03,0.03,0.06,0.05,0.05,0.10,0.11,0.12,0.13,0.16,0.16,0.24,0.30,0.39,0.56,0.78,1.02,0.94,0.95,0.77,0.61,0.66,0.64,0.59,0.35,0.19,0.11,0.02,0.02,0.01,0.01,0.005,0.005,0.005]
const feHCut = -1.47
const gcFeHHist = [-2.53, -2.48, -2.10]
const gcHistY = [2.0, 2.0, 2.0]

// ---- panel 6: [alpha/Fe] vs [Fe/H], rows [alpha, [FeH, ...]] ----
const chemField = [
  [-1.9,0.05],[-1.85,0.2],[-1.8,-0.05],[-1.75,0.15],[-1.7,0.3],[-1.7,0.0],[-1.65,0.08],[-1.62,-0.08],[-1.6,0.35],[-1.55,-0.02],
  [-1.5,-0.1],[-1.45,0.42],[-1.4,-0.05],[-1.35,-0.12],[-1.3,0.4],[-1.25,-0.08],[-1.2,-0.15],[-1.15,-0.05],[-1.1,0.42],[-1.05,-0.1],
  [-1.0,0.38],[-0.95,-0.05],[-0.9,0.4],[-0.85,-0.1],[-0.8,0.02],[-0.75,-0.04],[-0.7,0.25],[-0.22,0.35],[-0.2,0.28],[-0.28,0.4],
  [-0.1,0.12],[-0.05,0.25],[-0.7,-0.1],[-0.9,-0.18],[-1.0,-0.22],[-1.6,0.45],[-1.4,0.45],[-0.95,0.48],[-0.8,0.45],
  [-0.58,-0.05],[-0.48,-0.02],[-0.65,-0.15],[-1.12,-0.2],[-0.3,0.0],[-0.2,0.05],[-0.15,0.3],[-0.12,0.38],[-0.25,0.45],
  [-2.95,0.55],[-2.85,0.47],[-2.75,0.52],[-2.7,0.36],[-2.65,0.43],[-2.55,0.5],[-2.5,0.32],[-2.45,0.54],[-2.4,0.45],[-2.35,0.38],
  [-2.3,0.48],[-2.25,0.3],[-2.2,0.43],[-2.15,0.52],[-2.1,0.25],[-2.05,0.4],[-2.0,0.33],[-1.95,0.2],[-1.9,0.45],[-1.85,0.35],
  [-1.8,0.5],[-2.9,0.35],[-2.8,0.22],[-2.6,0.15],[-2.4,0.2],[-2.2,0.12],[-2.0,0.1],[-1.95,0.55],[-2.6,0.58],[-2.3,0.05],
  [-1.85,0.08],[-1.75,-0.12],[-1.9,-0.05],[-2.78,0.42],[-2.52,0.42],[-2.25,0.22],[-2.05,0.18],[-1.98,0.28],[-2.12,0.35],
  [-1.3,-0.18],[-0.95,-0.14],[-1.45,-0.18],[-0.85,-0.24],[-1.15,-0.28]
]
const chemDense = [
  [0.44, [-0.68,-0.595,-0.544]],
  [0.425, [-0.71,-0.672,-0.574,-0.429]],
  [0.41, [-1.29,-1.175,-0.79,-0.705,-0.654,-0.531,-0.463]],
  [0.395, [-1.36,-1.292,-1.186,-1.148,-1.05,-0.8,-0.655,-0.595,-0.518,-0.403,-0.356]],
  [0.38, [-1.4,-1.34,-1.263,-1.148,-1.101,-1.016,-0.83,-0.707,-0.639,-0.533,-0.495,-0.397]],
  [0.365, [-1.49,-1.439,-1.316,-1.248,-1.142,-1.104,-1.006,-0.861,-0.801,-0.724,-0.609,-0.562,-0.477,-0.426,-0.303]],
  [0.35, [-1.56,-1.462,-1.317,-1.257,-1.18,-1.065,-1.018,-0.933,-0.882,-0.759,-0.691,-0.585,-0.547,-0.449,-0.304]],
  [0.335, [-1.555,-1.508,-1.423,-1.372,-1.249,-1.181,-1.075,-1.037,-0.939,-0.794,-0.734,-0.657,-0.542,-0.495,-0.41,-0.359]],
  [0.32, [-1.57,-1.464,-1.426,-1.328,-1.183,-1.123,-1.046,-0.931,-0.884,-0.799,-0.748,-0.625,-0.557,-0.451,-0.413,-0.315]],
  [0.305, [-1.605,-1.528,-1.413,-1.366,-1.281,-1.23,-1.107,-1.039,-0.933,-0.895,-0.797,-0.652,-0.592,-0.515,-0.4,-0.353]],
  [0.29, [-1.645,-1.522,-1.454,-1.348,-1.31,-1.212,-1.067,-1.007,-0.93,-0.815,-0.768,-0.683,-0.632,-0.509,-0.441,-0.335,-0.24,-0.13]],
  [0.275, [-1.695,-1.55,-1.49,-1.413,-1.298,-1.251,-1.166,-1.115,-0.992,-0.924,-0.818,-0.78,-0.682,-0.537,-0.477,-0.4]],
  [0.26, [-1.69,-1.605,-1.554,-1.431,-1.363,-1.257,-1.219,-1.121,-0.976,-0.916,-0.839,-0.724,-0.677,-0.592,-0.541,-0.418]],
  [0.25, [-0.27,-0.16]],
  [0.245, [-1.67,-1.632,-1.534,-1.389,-1.329,-1.252,-1.137,-1.09,-1.005,-0.954,-0.831,-0.763,-0.657,-0.619,-0.521]],
  [0.23, [-1.71,-1.595,-1.548,-1.463,-1.412,-1.289,-1.221,-1.115,-1.077,-0.979,-0.834,-0.774,-0.697,-0.582,-0.535]],
  [0.215, [-1.67,-1.602,-1.496,-1.458,-1.36,-1.215,-1.155,-1.078,-0.963,-0.916,-0.831,-0.78,-0.657,-0.589]],
  [0.21, [-0.53,-0.327,-0.244,-0.094]],
  [0.2, [-1.64,-1.58,-1.503,-1.388,-1.341,-1.256,-1.205,-1.082,-1.014,-0.908,-0.87,-0.772,-0.627]],
  [0.185, [-1.65,-1.599,-1.476,-1.408,-1.302,-1.264,-1.166,-1.021,-0.961,-0.884,-0.769,-0.722]],
  [0.17, [-1.66,-1.562,-1.417,-1.357,-1.28,-1.165,-1.118,-1.033,-0.982,-0.859,-0.791,-0.685,-0.52,-0.4,-0.212,-0.144]],
  [0.155, [-1.585,-1.538,-1.453,-1.402,-1.279,-1.211,-1.105,-1.067,-0.969,-0.824,-0.764,-0.687]],
  [0.14, [-1.54,-1.434,-1.396,-1.298,-1.153,-1.093,-1.016,-0.901,-0.854,-0.769,-0.718]],
  [0.13, [-0.54,-0.435,-0.3,-0.097]],
  [0.125, [-1.505,-1.428,-1.313,-1.266,-1.181,-1.13,-1.007,-0.939,-0.833,-0.795,-0.697]],
  [0.11, [-1.475,-1.352,-1.284,-1.178,-1.14,-1.042,-0.897,-0.837,-0.76]],
  [0.095, [-1.415,-1.27,-1.21,-1.133,-1.018,-0.971,-0.886,-0.835,-0.712]],
  [0.09, [-0.52,-0.43,-0.212,-0.092]],
  [0.08, [-1.39,-1.305,-1.254,-1.131,-1.063,-0.957,-0.919,-0.821]],
  [0.065, [-1.3,-1.262,-1.164,-1.019,-0.959,-0.882,-0.767]],
  [0.05, [-1.29,-1.175,-1.128,-1.043,-0.992,-0.869,-0.801,-0.6,-0.427,-0.172]],
  [0.035, [-1.2,-1.132,-1.026,-0.988,-0.89,-0.81]],
  [0.02, [-1.165,-1.105,-1.028,-0.913,-0.866]],
  [0.01, [-0.62,-0.537,-0.387,-0.297]],
  [0.005, [-1.07,-1.019,-0.896]],
  [-0.02, [-1.68,-1.53,-1.44,-1.222,-1.102,-0.914,-0.846,-0.673]],
  [-0.05, [-1.65,-1.582,-1.409,-1.154,-1.049,-0.914,-0.711,-0.628]],
  [-0.08, [-1.6,-1.397,-1.314,-1.164,-1.074,-0.856,-0.736]],
  [-0.11, [-1.55,-1.43,-1.242,-1.174,-1.001,-0.746,-0.641]],
  [-0.14, [-1.45,-1.345,-1.21,-1.007,-0.924,-0.774]],
  [0.34, [-1.92,-1.8]],
  [0.3, [-1.96,-1.85,-1.76]],
  [0.26, [-1.9,-1.79]],
  [0.22, [-1.97,-1.83,-1.76]],
  [0.18, [-1.88,-1.78]],
  [0.14, [-1.94,-1.81,-1.72]],
  [0.1, [-1.85,-1.7]],
  [0.06, [-1.9,-1.76,-1.62]],
  [0.02, [-1.82,-1.66]]
]
const chemMembers = [
  [-2.718,0.477],[-2.605,0.5],[-2.311,0.538],[-2.415,0.463],[-2.421,0.411],[-2.641,0.338],[-2.542,0.223],[-2.452,0.24],[-2.311,0.342],[-2.311,0.282],
  [-2.232,0.385],[-2.212,0.098],[-2.167,0.323],[-2.147,0.322],[-2.161,0.275],[-2.133,0.305],[-2.11,0.121],[-2.068,0.249],[-2.048,0.332],[-2.006,0.398],
  [-2.0,0.113],[-1.958,0.488],[-1.958,0.367],[-1.963,0.35],[-1.949,0.322],[-1.941,0.434],[-1.927,0.305],[-1.921,0.254],[-1.921,0.236],[-1.907,0.404],
  [-1.893,0.238],[-1.884,0.392],[-1.884,0.363],[-1.893,0.126],[-1.856,0.382],[-1.836,0.123],[-1.828,0.292],[-1.814,0.148],[-1.802,0.334],[-1.802,0.231],
  [-1.785,0.025],[-1.78,0.107],[-1.76,0.113],[-1.743,0.482],[-1.732,0.368],[-1.729,0.13],[-1.723,0.192],[-1.723,0.094],[-1.709,0.304],[-1.703,0.211],
  [-1.703,0.167],[-1.7,0.061],[-1.675,0.277],[-1.667,0.232],[-1.658,0.218],[-1.633,0.149],[-1.624,0.082],[-1.61,0.198],[-1.602,0.135],[-1.602,-0.024],
  [-1.573,0.467],[-1.568,0.261],[-1.568,0.215],[-1.562,0.102],[-1.559,0.015],[-1.554,0.281],[-1.554,0.042],[-1.54,0.263],[-1.54,0.14],[-1.52,0.15],
  [-1.511,0.158],[-1.497,0.211],[-1.483,0.382],[-1.477,0.257],[-1.469,0.161],[-1.469,0.138],[-1.455,0.19],[-1.449,0.28],[-1.432,0.39],[-1.404,0.163]
]
const gcFeH = [-2.458, -2.076]
const gcAlpha = [0.449, 0.359]

// ---- tick positions ----
const lzTicks = [-4, -2, 0, 2, 4]
const eTicks = [-1.5, -1.0, -0.5, 0.0]
const vTicks = [-400, -200, 0, 200, 400]
const jTicks = [-1.0, -0.5, 0.0, 0.5, 1.0]
const rTicks = [10, 25, 50]
const rMinor = [15, 20, 30, 35, 40, 45]
const eccTicks = [0.0, 0.2, 0.4, 0.6, 0.8, 1.0]
const feTicks = [-3, -2, -1, 0]
const freqTicks = [0.0, 0.5, 1.0, 1.5, 2.0]
const alphaTicks = [-0.2, 0.0, 0.2, 0.4, 0.6]

const FONT = '"Liberation Sans", Arial, sans-serif'
const MATH = '"DejaVu Sans", sans-serif'
const INK = '#262626'
const GREY = '#c0c0c0'
const PURPLE = '#800080'
const RED = '#ff0000'

function steps(from, to, step) {
  const out = []
  for (let v = from; v <= to + 1e-9; v += step) out.push(+v.toFixed(4))
  return out
}

const minus = s => s.replace('-', '\u2212')
const fmt0 = v => minus(String(Math.round(v)))
const fmt1 = v => minus((Math.abs(v) < 1e-9 ? 0 : v).toFixed(1))

function axis(o) {
  return {
    type: o.type || 'linear',
    min: o.min,
    max: o.max,
    grid: { display: false, drawTicks: false },
    border: { display: false },
    ticks: {
      color: INK,
      font: { family: FONT, size: 17 },
      padding: o.horizontal ? 1 : 5,
      autoSkip: false,
      maxRotation: 0,
      callback: v => o.fmt(v)
    },
    afterBuildTicks: s => { s.ticks = o.ticks.map(v => ({ value: v })) },
    afterFit: s => { if (o.horizontal) s.height = 40; else s.width = 70 }
  }
}

function drawRich(ctx, segs, x, y, size, angle) {
  const parts = segs.map(s => (typeof s === 'string' ? { t: s } : Object.assign({}, s)))
  const fontOf = p => {
    const sz = p.sub || p.sup ? size * 0.7 : size
    return (p.i ? 'italic ' : '') + sz + 'px ' + (p.m ? MATH : FONT)
  }
  let w = 0
  parts.forEach(p => { ctx.font = fontOf(p); p.w = ctx.measureText(p.t).width; w += p.w })
  ctx.save()
  ctx.translate(x, y)
  ctx.rotate(angle)
  ctx.fillStyle = INK
  ctx.textAlign = 'left'
  ctx.textBaseline = 'alphabetic'
  let cx = -w / 2
  parts.forEach(p => {
    ctx.font = fontOf(p)
    const dy = p.sub ? size * 0.2 : p.sup ? -size * 0.4 : 0
    ctx.fillText(p.t, cx, dy)
    cx += p.w
  })
  ctx.restore()
}

function starImage(r, lw) {
  const c = document.createElement('canvas')
  const s = Math.ceil(2 * r + 2 * lw + 2)
  c.width = c.height = s
  const g = c.getContext('2d')
  g.translate(s / 2, s / 2)
  g.beginPath()
  for (let i = 0; i < 10; i++) {
    const rr = i % 2 ? r * 0.42 : r
    const a = -Math.PI / 2 + i * Math.PI / 5
    g.lineTo(rr * Math.cos(a), rr * Math.sin(a))
  }
  g.closePath()
  g.strokeStyle = RED
  g.lineWidth = lw
  g.lineJoin = 'miter'
  g.stroke()
  return c
}
const STAR = starImage(8.5, 2.4)

function roundBox(ctx, x, y, w, h, r) {
  ctx.beginPath()
  ctx.moveTo(x + r, y)
  ctx.arcTo(x + w, y, x + w, y + h, r)
  ctx.arcTo(x + w, y + h, x, y + h, r)
  ctx.arcTo(x, y + h, x, y, r)
  ctx.arcTo(x, y, x + w, y, r)
  ctx.closePath()
  ctx.fillStyle = 'rgba(255,255,255,0.8)'
  ctx.fill()
  ctx.strokeStyle = '#d4d4d4'
  ctx.lineWidth = 1
  ctx.stroke()
}

// per-canvas decoration settings, kept outside Chart.js option resolution
const decorById = {}

const decorPlugin = {
  id: 'decor',
  afterDraw(chart) {
    const o = decorById[chart.canvas.id]
    if (!o) return
    const { ctx, chartArea: a } = chart
    const sx = chart.scales.x
    const sy = chart.scales.y
    ctx.save()
    ctx.strokeStyle = INK
    const marks = (scale, values, len, lw) => {
      ctx.lineWidth = lw
      values.forEach(v => {
        if (v < scale.min || v > scale.max) return
        const p = scale.getPixelForValue(v)
        ctx.beginPath()
        if (scale.isHorizontal()) {
          ctx.moveTo(p, a.bottom); ctx.lineTo(p, a.bottom - len)
          ctx.moveTo(p, a.top); ctx.lineTo(p, a.top + len)
        } else {
          ctx.moveTo(a.left, p); ctx.lineTo(a.left + len, p)
          ctx.moveTo(a.right, p); ctx.lineTo(a.right - len, p)
        }
        ctx.stroke()
      })
    }
    marks(sx, sx.ticks.map(t => t.value), 6, 1.2)
    marks(sy, sy.ticks.map(t => t.value), 6, 1.2)
    marks(sx, o.xMinor || [], 3.5, 1)
    marks(sy, o.yMinor || [], 3.5, 1)
    ctx.lineWidth = 1.25
    ctx.strokeRect(a.left, a.top, a.right - a.left, a.bottom - a.top)
    drawRich(ctx, o.xTitle, (a.left + a.right) / 2, o.xTitleY, 25, 0)
    drawRich(ctx, o.yTitle, o.yTitleX, (a.top + a.bottom) / 2, 25, -Math.PI / 2)
    if (o.legend) o.legend(ctx)
    ctx.restore()
  }
}

const pts = arr => arr.map(([x, y]) => ({ x, y }))
const rowPts = rows => rows.flatMap(([y, xs]) => xs.map(x => ({ x, y })))
const zip = (xs, ys) => xs.map((x, i) => ({ x, y: ys[i] }))

const grey = (data, r) => ({ data, pointRadius: r, pointBackgroundColor: GREY, pointBorderWidth: 0 })
const members = arr => ({ data: pts(arr), pointRadius: 2.8, pointBackgroundColor: PURPLE, pointBorderWidth: 0 })
const clusters = (xs, ys) => ({ data: zip(xs, ys), pointStyle: STAR, pointRadius: 9 })

function panel(id, area, scales, datasets, decor) {
  decorById[id] = decor
  new Chart(document.getElementById(id), {
    type: 'scatter',
    data: { datasets },
    options: {
      responsive: false,
      animation: false,
      events: [],
      layout: { padding: { left: area[0] - 70, top: area[1], right: 1416 - area[2], bottom: 867 - area[3] - 40 } },
      plugins: { legend: { display: false }, tooltip: { enabled: false } },
      scales
    },
    plugins: [decorPlugin]
  })
}

const TOP = [49, 396]
const BOT = [465, 812.3]
const COL = [[80, 446.7], [549.3, 916.7], [1019, 1386]]
const DENSE_R = 1.8
const FIELD_R = 1.5

// panel 1
panel('p1', [COL[0][0], TOP[0], COL[0][1], TOP[1]], {
  x: axis({ min: -4.5, max: 4.5, ticks: lzTicks, fmt: fmt0, horizontal: true }),
  y: axis({ min: -1.75, max: 0.01, ticks: eTicks, fmt: fmt1 })
}, [
  clusters(gcLz, gcE),
  {
    data: zip([boxLz[0], boxLz[1], boxLz[1], boxLz[0], boxLz[0]], [boxE[0], boxE[0], boxE[1], boxE[1], boxE[0]]),
    showLine: true, borderColor: PURPLE, borderWidth: 2, borderDash: [6, 3], pointRadius: 0
  },
  members(eLzMembers),
  grey(rowPts(eLzDense), DENSE_R),
  grey(pts(eLzField), FIELD_R)
], {
  xMinor: steps(-4.5, 4.5, 0.5),
  yMinor: steps(-1.7, 0, 0.1),
  xTitle: [{ t: 'L', i: 1, m: 1 }, { t: 'z', sub: 1, m: 1 }, ' [10', { t: '3', sup: 1, m: 1 }, ' kpc km s', { t: '\u22121', sup: 1, m: 1 }, ']'],
  yTitle: [{ t: 'E', i: 1, m: 1 }, { t: 'tot', sub: 1, m: 1 }, ' [10', { t: '5', sup: 1, m: 1 }, ' km', { t: '2', sup: 1, m: 1 }, ' s', { t: '\u22122', sup: 1, m: 1 }, ']'],
  xTitleY: 443,
  yTitleX: 33,
  legend: ctx => {
    roundBox(ctx, 265, 61, 172, 35, 4)
    ctx.drawImage(STAR, 294 - STAR.width / 2, 77 - STAR.height / 2)
    ctx.fillStyle = INK
    ctx.font = '21px ' + FONT
    ctx.textBaseline = 'alphabetic'
    ctx.fillText('Wuk. GCs', 333, 84)
  }
})

// panel 2
panel('p2', [COL[1][0], TOP[0], COL[1][1], TOP[1]], {
  x: axis({ min: -475, max: 475, ticks: vTicks, fmt: fmt0, horizontal: true }),
  y: axis({ min: -475, max: 475, ticks: vTicks, fmt: fmt0 })
}, [
  clusters(gcVr, gcVphi),
  members(velMembers),
  grey(rowPts(velDense), DENSE_R),
  grey(pts(velField), FIELD_R)
], {
  xMinor: steps(-450, 450, 50),
  yMinor: steps(-450, 450, 50),
  xTitle: [{ t: 'V', i: 1, m: 1 }, { t: 'r', sub: 1, m: 1 }, ' [km s', { t: '\u22121', sup: 1, m: 1 }, ']'],
  yTitle: [{ t: 'V', i: 1, m: 1 }, { t: '\u03d5', sub: 1, m: 1 }, ' [km s', { t: '\u22121', sup: 1, m: 1 }, ']'],
  xTitleY: 443,
  yTitleX: 495
})

// panel 3
panel('p3', [COL[2][0], TOP[0], COL[2][1], TOP[1]], {
  x: axis({ min: -1.25, max: 1.25, ticks: jTicks, fmt: fmt1, horizontal: true }),
  y: axis({ min: -1.25, max: 1.25, ticks: jTicks, fmt: fmt1 })
}, [
  clusters(gcJphi, gcJdiff),
  members(actMembers),
  grey(rowPts(actDense), DENSE_R)
], {
  xMinor: steps(-1.2, 1.2, 0.1),
  yMinor: steps(-1.2, 1.2, 0.1),
  xTitle: [{ t: 'J', i: 1, m: 1 }, { t: '\u03d5', sub: 1, m: 1 }, { t: '/', m: 1 }, { t: 'J', i: 1, m: 1 }, { t: 'tot', sub: 1, m: 1 }],
  yTitle: [{ t: '(', m: 1 }, { t: 'J', i: 1, m: 1 }, { t: 'z', sub: 1, m: 1 }, { t: ' \u2212 ', m: 1 }, { t: 'J', i: 1, m: 1 }, { t: 'R', sub: 1, m: 1 },
    { t: ')/', m: 1 }, { t: 'J', i: 1, m: 1 }, { t: 'tot', sub: 1, m: 1 }],
  xTitleY: 443,
  yTitleX: 972
})

// panel 4
panel('p4', [COL[0][0], BOT[0], COL[0][1], BOT[1]], {
  x: axis({ type: 'logarithmic', min: 5.95, max: 50, ticks: rTicks, fmt: fmt0, horizontal: true }),
  y: axis({ min: -0.05, max: 1.05, ticks: eccTicks, fmt: fmt1 })
}, [
  clusters(gcRgal, gcEcc),
  members(eccMembers),
  grey(rowPts(eccDense), DENSE_R),
  grey(pts(eccField), FIELD_R)
], {
  xMinor: rMinor,
  yMinor: [],
  xTitle: ['r', { t: 'gal', sub: 1 }, ' [kpc]'],
  yTitle: ['Eccentricity'],
  xTitleY: 855,
  yTitleX: 43
})

// panel 5
const stepLine = (heights, color, width, dash) => ({
  data: [{ x: feHEdges[0], y: 0 }, ...heights.map((h, i) => ({ x: feHEdges[i], y: h })), { x: feHEdges[feHEdges.length - 1], y: 0 }],
  showLine: true, stepped: 'before', borderColor: color, borderWidth: width, borderDash: dash,
  borderJoinStyle: 'miter', pointRadius: 0, clip: 6
})
panel('p5', [COL[1][0], BOT[0], COL[1][1], BOT[1]], {
  x: axis({ min: -3.05, max: 0.5, ticks: feTicks, fmt: fmt0, horizontal: true }),
  y: axis({ min: 0, max: 2.1, ticks: freqTicks, fmt: fmt1 })
}, [
  clusters(gcFeHHist, gcHistY),
  { data: zip([feHCut, feHCut], [0, 2.1]), showLine: true, borderColor: PURPLE, borderWidth: 1.5, borderDash: [6, 2.5], pointRadius: 0 },
  stepLine(histWukong, PURPLE, 3, []),
  stepLine(histCut, PURPLE, 2, [7, 3]),
  stepLine(histField, GREY, 2.5, [])
], {
  xMinor: steps(-3.0, 0.4, 0.2),
  yMinor: steps(0, 2.1, 0.1),
  xTitle: ['[Fe/H]'],
  yTitle: ['Norm. Freq.'],
  xTitleY: 855,
  yTitleX: 512,
  legend: ctx => {
    roundBox(ctx, 762, 474, 145, 50, 4)
    ctx.save()
    ctx.strokeStyle = PURPLE
    ctx.lineWidth = 2
    ctx.setLineDash([7, 3])
    ctx.strokeRect(768.5, 493, 36.5, 13)
    ctx.restore()
    ctx.fillStyle = INK
    ctx.textBaseline = 'alphabetic'
    ctx.font = '18px ' + FONT
    ctx.fillText('only E-L', 819, 495)
    let w = ctx.measureText('only E-L').width
    ctx.font = '12.6px ' + FONT
    ctx.fillText('z', 819 + w, 499)
    w += ctx.measureText('z').width
    ctx.font = '18px ' + FONT
    ctx.fillText('+', 819 + w, 495)
    ctx.fillText('ecc. cut', 819, 515)
  }
})

// panel 6
panel('p6', [COL[2][0], BOT[0], COL[2][1], BOT[1]], {
  x: axis({ min: -3.1, max: 0, ticks: feTicks, fmt: fmt0, horizontal: true }),
  y: axis({ min: -0.2, max: 0.6, ticks: alphaTicks, fmt: fmt1 })
}, [
  clusters(gcFeH, gcAlpha),
  members(chemMembers),
  grey(rowPts(chemDense), DENSE_R),
  grey(pts(chemField), FIELD_R)
], {
  xMinor: steps(-3.0, 0, 0.2),
  yMinor: steps(-0.2, 0.6, 0.05),
  xTitle: ['[Fe/H]'],
  yTitle: ['[', { t: '\u03b1', i: 1, m: 1 }, '/Fe]'],
  xTitleY: 855,
  yTitleX: 972
})
</script>
</body>
</html>
